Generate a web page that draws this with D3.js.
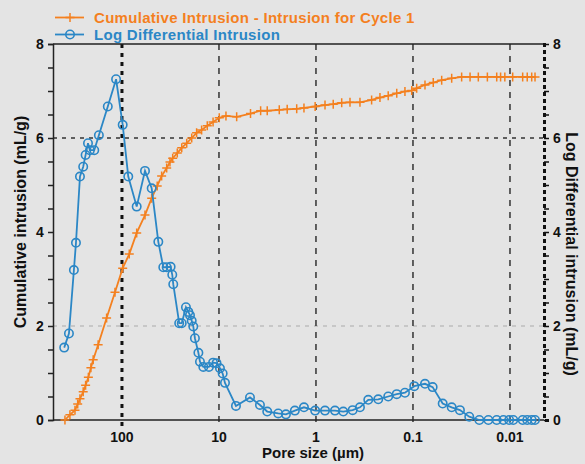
<!DOCTYPE html>
<html>
<head>
<meta charset="utf-8">
<script src="https://cdn.jsdelivr.net/npm/d3@7"></script>
<style>
  body { margin: 0; background: #e4e4e4; }
  svg { display: block; }
</style>
</head>
<body>
<script>
// pore size (µm) and cumulative intrusion (mL/g)
let cumSize = [387, 344, 305, 286, 271, 251, 237, 222, 209, 198, 176, 144, 118, 98.3, 84.1, 70.5, 57.9, 49.4, 43.3, 39.0,
  34.6, 32.0, 30.0, 26.9, 24.2, 21.5, 19.1, 17.0, 15.1, 13.2, 11.5, 9.93, 8.47, 6.57, 4.73, 3.72, 3.18, 2.39, 1.98, 1.58,
  1.33, 1.02, 0.807, 0.664, 0.543, 0.446, 0.352, 0.267, 0.219, 0.180, 0.147, 0.121, 0.103, 0.0916, 0.0752, 0.0618, 0.0506,
  0.0399, 0.0315, 0.0258, 0.0212, 0.0171, 0.0137, 0.0125, 0.0113, 0.00938, 0.00740, 0.00664, 0.00597, 0.00552];
let cumValue = [0, 0.11, 0.21, 0.34, 0.45, 0.60, 0.74, 0.91, 1.11, 1.28, 1.60, 2.17, 2.72, 3.23, 3.53, 3.98, 4.36, 4.72, 4.98, 5.19,
  5.36, 5.49, 5.57, 5.68, 5.79, 5.89, 6.00, 6.11, 6.17, 6.26, 6.34, 6.43, 6.47, 6.45, 6.52, 6.58, 6.58, 6.60, 6.61, 6.62,
  6.64, 6.67, 6.70, 6.72, 6.75, 6.76, 6.76, 6.81, 6.86, 6.90, 6.95, 6.99, 7.01, 7.06, 7.13, 7.18, 7.23,
  7.27, 7.30, 7.30, 7.30, 7.30, 7.30, 7.30, 7.30, 7.30, 7.30, 7.30, 7.30, 7.30];

// pore size (µm) and log differential intrusion (mL/g)
let logSize = [394, 352, 313, 298, 271, 251, 237, 224, 214, 193, 173, 140, 115, 98.3, 86.1, 70.5, 57.9, 49.4, 42.2, 37.5,
  34.6, 31.5, 30.3, 29.6, 25.7, 24.2, 21.9, 20.7, 19.9, 19.1, 18.4, 17.7, 16.3, 15.7, 14.5, 12.7, 11.5, 10.6, 9.77, 9.16,
  8.67, 6.68, 4.79, 3.78, 3.18, 2.45, 2.04, 1.65, 1.33, 1.02, 0.807, 0.637, 0.523, 0.419, 0.352, 0.289, 0.228, 0.180,
  0.147, 0.121, 0.0970, 0.0752, 0.0627, 0.0494, 0.0399, 0.0328, 0.0263, 0.0207, 0.0167, 0.0137, 0.0117, 0.0102, 0.00925,
  0.00740, 0.00664, 0.00597, 0.00552];
let logValue = [1.54, 1.84, 3.19, 3.77, 5.18, 5.39, 5.64, 5.89, 5.74, 5.74, 6.06, 6.67, 7.25, 6.28, 5.18, 4.54, 5.30, 4.93, 3.79, 3.25,
  3.25, 3.26, 3.09, 2.89, 2.06, 2.06, 2.40, 2.30, 2.23, 2.11, 1.99, 1.74, 1.43, 1.24, 1.13, 1.13, 1.22, 1.21, 1.10, 0.99,
  0.79, 0.30, 0.48, 0.32, 0.18, 0.14, 0.12, 0.20, 0.27, 0.20, 0.20, 0.20, 0.18, 0.21, 0.27, 0.43, 0.44, 0.50,
  0.55, 0.58, 0.72, 0.77, 0.70, 0.35, 0.27, 0.21, 0.07, 0, 0, 0, 0, 0, 0,
  0, 0, 0, 0];

let xTicks = [100, 10, 1, 0.1, 0.01];
let xTickLabels = ['100', '10', '1', '0.1', '0.01'];
let yTicks = [0, 2, 4, 6, 8];

let seriesNames = ['Cumulative Intrusion - Intrusion for Cycle 1', 'Log Differential Intrusion'];

// dimensions
let width = 585, height = 464;
let margin = {left: 53, right: 544, top: 44, bottom: 420};

let orange = '#f4801f', blue = '#2b87c6';
let font = 'Liberation Sans, Arial, sans-serif';

let svg = d3.select('body').append('svg')
    .attr('width', width)
    .attr('height', height);

svg.append('rect')
    .attr('width', width).attr('height', height)
    .attr('fill', '#e4e4e4');

// scales
let x = d3.scaleLog()
    .domain([514, 0.00446])
    .range([margin.left, margin.right]);

let y = d3.scaleLinear()
    .domain([0, 8])
    .range([margin.bottom, margin.top]);

// grid lines
svg.append('line')
    .attr('x1', margin.left).attr('x2', margin.right)
    .attr('y1', y(6)).attr('y2', y(6))
    .attr('stroke', '#333').attr('stroke-width', 1.5)
    .attr('stroke-dasharray', '4,5');

svg.append('line')
    .attr('x1', margin.left).attr('x2', margin.right)
    .attr('y1', y(2)).attr('y2', y(2))
    .attr('stroke', '#bdbdbd').attr('stroke-width', 1.5)
    .attr('stroke-dasharray', '4,5');

svg.selectAll('line.vgrid')
    .data(xTicks)
    .enter().append('line')
    .attr('class', 'vgrid')
    .attr('x1', d => x(d)).attr('x2', d => x(d))
    .attr('y1', margin.top).attr('y2', margin.bottom + 6)
    .attr('stroke', d => d === 100 ? '#111' : '#333')
    .attr('stroke-width', d => d === 100 ? 3 : 1.5)
    .attr('stroke-dasharray', d => d === 100 ? '4,5' : '6,6');

// axes frame
svg.append('line')
    .attr('x1', margin.left).attr('x2', margin.right)
    .attr('y1', margin.top).attr('y2', margin.top)
    .attr('stroke', '#222').attr('stroke-width', 1.5);

let yAxisL = d3.axisLeft(y).tickValues(d3.range(0, 8.01, 0.5)).tickSize(5).tickFormat('');
svg.append('g')
    .attr('transform', `translate(${margin.left},0)`)
    .call(yAxisL)
    .call(g => g.selectAll('path, line').attr('stroke', '#222').attr('stroke-width', 1.5));

let yAxisR = d3.axisRight(y).tickValues(d3.range(0, 8.01, 0.5)).tickSize(5).tickFormat('');
svg.append('g')
    .attr('transform', `translate(${margin.right},0)`)
    .call(yAxisR)
    .call(g => g.selectAll('line').attr('stroke', '#111').attr('stroke-width', 1.5))
    .call(g => g.select('path').attr('stroke', '#111').attr('stroke-width', 3).attr('stroke-dasharray', '4,3'));

svg.append('line')
    .attr('x1', margin.left).attr('x2', margin.right)
    .attr('y1', margin.bottom).attr('y2', margin.bottom)
    .attr('stroke', '#222').attr('stroke-width', 1.5);

// tick labels
svg.selectAll('text.ylabL')
    .data(yTicks)
    .enter().append('text')
    .attr('x', 40).attr('y', d => y(d) + 5)
    .attr('text-anchor', 'middle')
    .attr('font-family', font).attr('font-weight', 'bold').attr('font-size', '14px')
    .attr('fill', '#111')
    .text(d => d);

svg.selectAll('text.ylabR')
    .data(yTicks)
    .enter().append('text')
    .attr('x', 557).attr('y', d => y(d) + 5)
    .attr('text-anchor', 'middle')
    .attr('font-family', font).attr('font-weight', 'bold').attr('font-size', '14px')
    .attr('fill', '#111')
    .text(d => d);

svg.selectAll('text.xlab')
    .data(xTicks)
    .enter().append('text')
    .attr('x', (d, i) => x(d)).attr('y', 442)
    .attr('text-anchor', 'middle')
    .attr('font-family', font).attr('font-weight', 'bold').attr('font-size', '14px')
    .attr('fill', '#111')
    .text((d, i) => xTickLabels[i]);

// axis titles
svg.append('text')
    .attr('x', 313).attr('y', 458)
    .attr('text-anchor', 'middle')
    .attr('font-family', font).attr('font-weight', 'bold').attr('font-size', '15px')
    .attr('fill', '#111')
    .text('Pore size (µm)');

svg.append('text')
    .attr('transform', 'translate(26,222) rotate(-90)')
    .attr('text-anchor', 'middle')
    .attr('font-family', font).attr('font-weight', 'bold').attr('font-size', '16px')
    .attr('fill', '#111')
    .text('Cumulative intrusion (mL/g)');

svg.append('text')
    .attr('transform', 'translate(566,254) rotate(90)')
    .attr('text-anchor', 'middle')
    .attr('font-family', font).attr('font-weight', 'bold').attr('font-size', '16px')
    .attr('fill', '#111')
    .text('Log Differential intrusion (mL/g)');

// series
let cumData = cumSize.map((d, i) => ({size: d, value: cumValue[i]}));
let logData = logSize.map((d, i) => ({size: d, value: logValue[i]}));

let line = d3.line()
    .x(d => x(d.size))
    .y(d => y(d.value));

let plus = 'M-4.5,0H4.5M0,-4.5V4.5';

svg.append('path')
    .datum(cumData)
    .attr('d', line)
    .attr('fill', 'none')
    .attr('stroke', orange).attr('stroke-width', 1.8);

svg.selectAll('path.cum')
    .data(cumData)
    .enter().append('path')
    .attr('class', 'cum')
    .attr('d', plus)
    .attr('transform', d => `translate(${x(d.size)},${y(d.value)})`)
    .attr('stroke', orange).attr('stroke-width', 1.5);

svg.append('path')
    .datum(logData)
    .attr('d', line)
    .attr('fill', 'none')
    .attr('stroke', blue).attr('stroke-width', 1.8);

svg.selectAll('circle.log')
    .data(logData)
    .enter().append('circle')
    .attr('class', 'log')
    .attr('cx', d => x(d.size))
    .attr('cy', d => y(d.value))
    .attr('r', 4.2)
    .attr('fill', 'none')
    .attr('stroke', blue).attr('stroke-width', 1.6);

// legend
let legend = svg.append('g');
let legendRows = legend.selectAll('g')
    .data(seriesNames)
    .enter().append('g')
    .attr('transform', (d, i) => `translate(0,${17.5 + i * 17})`);

legendRows.append('line')
    .attr('x1', 55).attr('x2', 84)
    .attr('stroke', (d, i) => i === 0 ? orange : blue)
    .attr('stroke-width', 1.8);

legendRows.filter((d, i) => i === 0).append('path')
    .attr('d', plus)
    .attr('transform', 'translate(70,0)')
    .attr('stroke', orange).attr('stroke-width', 1.5);

legendRows.filter((d, i) => i === 1).append('circle')
    .attr('cx', 70).attr('cy', 0).attr('r', 4.2)
    .attr('fill', 'none')
    .attr('stroke', blue).attr('stroke-width', 1.6);

legendRows.append('text')
    .attr('x', 94).attr('y', 5)
    .attr('font-family', font).attr('font-weight', 'bold').attr('font-size', '15px')
    .attr('letter-spacing', '0.3px')
    .attr('fill', (d, i) => i === 0 ? orange : blue)
    .text(d => d);
</script>
</body>
</html>
